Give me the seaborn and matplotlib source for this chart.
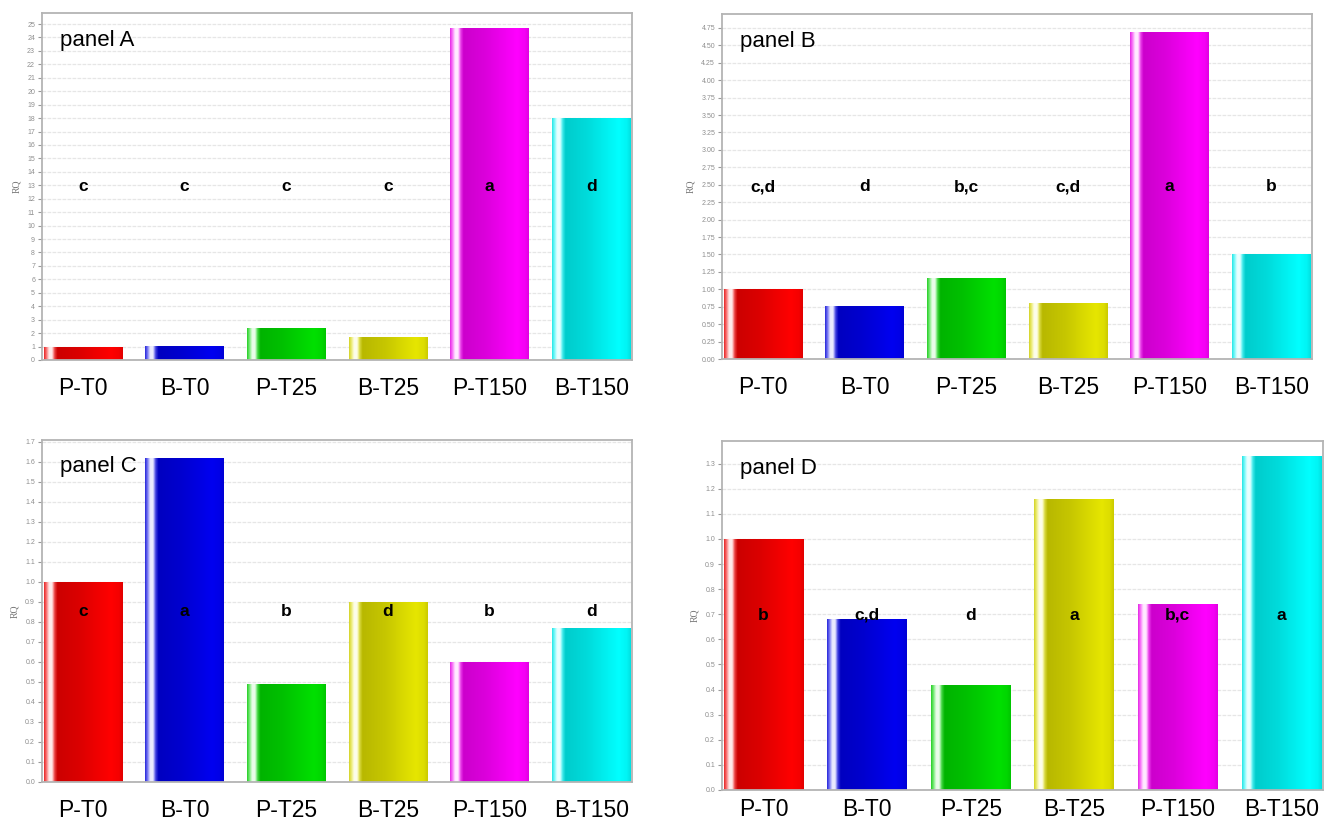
import numpy as np
import pandas as pd
import matplotlib
matplotlib.use("Agg")
import matplotlib.pyplot as plt
import matplotlib.transforms as mtransforms
import seaborn as sns
from matplotlib.colors import to_rgb

# ---------------- data ----------------
categories = ["P-T0", "B-T0", "P-T25", "B-T25", "P-T150", "B-T150"]
bar_colors = ["#ff0000", "#0000f0", "#00e000", "#e6e600", "#ff00ff", "#00ffff"]

values_a = [1.0, 1.05, 2.4, 1.7, 24.7, 18.0]
values_b = [1.0, 0.76, 1.16, 0.80, 4.69, 1.51]
values_c = [1.0, 1.62, 0.49, 0.90, 0.60, 0.77]
values_d = [1.0, 0.68, 0.42, 1.16, 0.74, 1.33]

letters_a = ["c", "c", "c", "c", "a", "d"]
letters_b = ["c,d", "d", "b,c", "c,d", "a", "b"]
letters_c = ["c", "a", "b", "d", "b", "d"]
letters_d = ["b", "c,d", "d", "a", "b,c", "a"]

panel_names = ["panel A", "panel B", "panel C", "panel D"]
y_max = [25.82, 4.95, 1.71, 1.39]
y_tick_step = [1, 0.25, 0.1, 0.1]
y_tick_top = [25, 4.75, 1.7, 1.3]
y_tick_fmt = ["{:.0f}", "{:.2f}", "{:.1f}", "{:.1f}"]

# ---------------- style ----------------
sns.set_theme(style="white")
plt.rcParams["font.family"] = ["Liberation Sans", "DejaVu Sans"]

W, H = 1326, 826
fig = plt.figure(figsize=(W / 100, H / 100), dpi=100)

# axes rectangles in pixels: left, right, top, bottom
rects = [(42, 632, 13, 360), (722, 1312, 14, 359),
         (42, 632, 440, 782), (722, 1323, 441, 790)]
x_pads = [12, 12, 12, 6]


def shade(rgb, n=300):
    stops = [(0.00, 0.88, 0.15), (0.03, 0.95, 0.45), (0.065, 1.0, 0.92),
             (0.10, 1.0, 0.92), (0.135, 0.88, 0.25), (0.17, 0.80, 0.0),
             (0.45, 0.86, 0.0), (0.85, 1.0, 0.0), (0.95, 0.96, 0.0),
             (1.00, 0.88, 0.0)]
    t = np.linspace(0, 1, n)
    k = np.interp(t, [s[0] for s in stops], [s[1] for s in stops])
    w = np.interp(t, [s[0] for s in stops], [s[2] for s in stops])
    base = np.array(rgb)[None, :] * k[:, None]
    col = base * (1 - w[:, None]) + w[:, None]
    return np.clip(col[None, :, :], 0, 1)


panels = [(values_a, letters_a), (values_b, letters_b),
          (values_c, letters_c), (values_d, letters_d)]

for idx, ((vals, lets), (l, r, t, b)) in enumerate(zip(panels, rects)):
    ax = fig.add_axes([l / W, (H - b) / H, (r - l) / W, (b - t) / H])
    df = pd.DataFrame({"cat": categories, "rq": vals})
    sns.barplot(data=df, x="cat", y="rq", hue="cat", palette=bar_colors,
                order=categories, hue_order=categories, legend=False,
                width=0.77, ax=ax, saturation=1, edgecolor="none")
    xlim = (-0.4, 5.4)
    ylim = (0, y_max[idx])
    # gradient fill clipped to each bar
    for patch in list(ax.patches):
        x0 = patch.get_x()
        w = patch.get_width()
        h = patch.get_height()
        rgb = to_rgb(patch.get_facecolor())
        im = ax.imshow(shade(rgb), extent=[x0, x0 + w, 0, h], aspect="auto",
                       interpolation="bilinear", zorder=patch.get_zorder() + 0.1)
        im.set_clip_path(patch)
    ax.set_xlim(*xlim)
    ax.set_ylim(*ylim)

    # grid & spines
    ax.set_axisbelow(True)
    ax.yaxis.grid(True, color="#e6e6e6", linestyle=(0, (3, 1)), linewidth=0.9)
    ax.xaxis.grid(False)
    for s in ax.spines.values():
        s.set_visible(True)
        s.set_color("#b4b4b4")
        s.set_linewidth(1.3)

    # ticks
    yt = np.arange(0, y_tick_top[idx] + 1e-9, y_tick_step[idx])
    ax.set_yticks(yt)
    ax.set_yticklabels([y_tick_fmt[idx].format(v) for v in yt])
    ax.tick_params(axis="y", length=3, width=0.8, color="#999999",
                   labelsize=5, labelcolor="#8f8f8f", pad=2, left=True)
    ax.tick_params(axis="x", length=0, labelsize=16.5, pad=x_pads[idx],
                   labelcolor="black")
    ax.set_xlabel("")
    ax.set_ylabel("RQ", fontsize=7, color="#777777", labelpad=4,
                  family=["Liberation Serif", "DejaVu Serif"])

    # significance letters at mid height
    trans = mtransforms.blended_transform_factory(ax.transData, ax.transAxes)
    for i, lt in enumerate(lets):
        ax.text(i, 0.5, lt, transform=trans, ha="center", va="center",
                fontsize=12.5, fontweight="bold", color="black", zorder=10)

    ax.text(0.03, 0.905, panel_names[idx], transform=ax.transAxes,
            fontsize=16, va="baseline", ha="left", color="black", zorder=10)

fig.savefig("out.png", dpi=100, facecolor="white")
